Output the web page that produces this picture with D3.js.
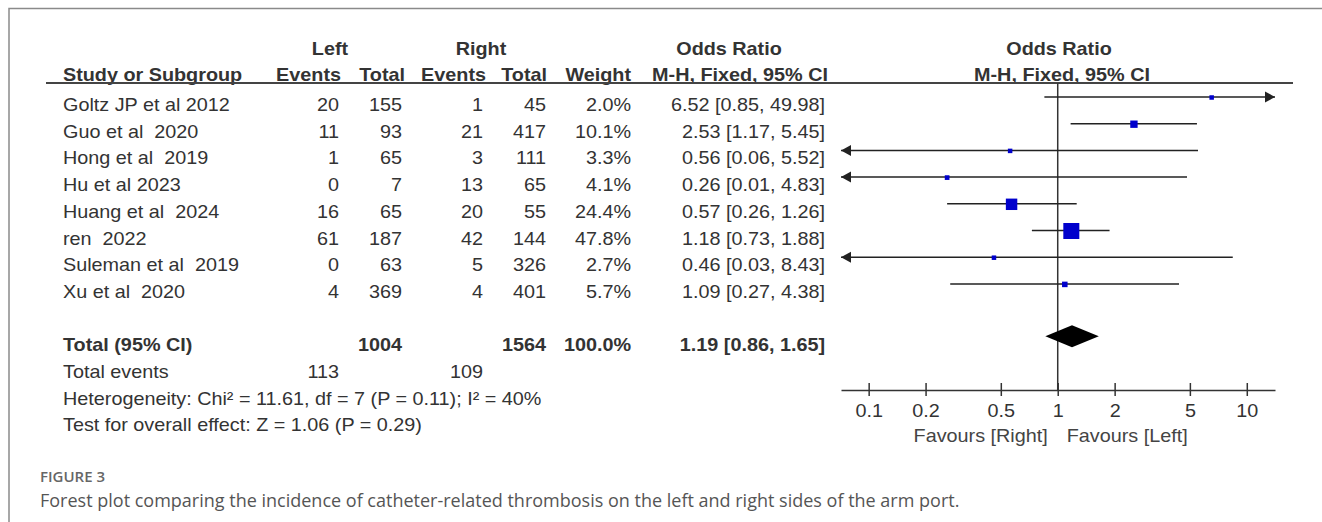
<!DOCTYPE html>
<html>
<head>
<meta charset="utf-8">
<script src="https://cdn.jsdelivr.net/npm/d3@7"></script>
<style>
  body { margin: 0; background: #fff; }
  svg text { white-space: pre; }
</style>
</head>
<body>
<svg width="1322" height="522"></svg>
<script>
// data
const studies = ["Goltz JP et al 2012", "Guo et al  2020", "Hong et al  2019", "Hu et al 2023",
  "Huang et al  2024", "ren  2022", "Suleman et al  2019", "Xu et al  2020"];
const leftEvents = [20, 11, 1, 0, 16, 61, 0, 4];
const leftTotal = [155, 93, 65, 7, 65, 187, 63, 369];
const rightEvents = [1, 21, 3, 13, 20, 42, 5, 4];
const rightTotal = [45, 417, 111, 65, 55, 144, 326, 401];
const weights = [2.0, 10.1, 3.3, 4.1, 24.4, 47.8, 2.7, 5.7];
const oddsRatio = [6.52, 2.53, 0.56, 0.26, 0.57, 1.18, 0.46, 1.09];
const ciLow = [0.85, 1.17, 0.06, 0.01, 0.26, 0.73, 0.03, 0.27];
const ciHigh = [49.98, 5.45, 5.52, 4.83, 1.26, 1.88, 8.43, 4.38];

const pooled = [1.19, 0.86, 1.65];          // OR, low, high
const totals = [1004, 1564, 100.0];          // left total, right total, weight
const totalEvents = [113, 109];
const heterogeneity = [11.61, 7, 0.11, 40];  // chi2, df, P, I2
const overall = [1.06, 0.29];                // Z, P

const xTicks = [0.1, 0.2, 0.5, 1, 2, 5, 10];
const xLimits = [0.0714, 14.1];

const svg = d3.select("svg");
const ink = "#333";
const font = "'Liberation Sans', Arial, sans-serif";

const x = d3.scaleLog().domain(xLimits).range([841, 1275]);
const row = d3.scaleLinear().domain([0, 12]).range([97, 417.4]);
const boxSize = d3.scaleSqrt().domain([0, 47.8]).range([0, 16]);

// text looks a bit wide in the source, stretch it horizontally
function txt(px, py, s, anchor, bold, color) {
  return svg.append("text")
    .attr("transform", `translate(${px},${py}) scale(1.1,1)`)
    .attr("text-anchor", anchor || "start")
    .attr("font-family", font)
    .attr("font-size", 18)
    .attr("font-weight", bold ? "bold" : "normal")
    .attr("fill", color || ink)
    .text(s);
}

// figure frame
svg.append("path")
  .attr("d", "M9,522V8.5H1322")
  .attr("fill", "none").attr("stroke", "#8a8a8a").attr("stroke-width", 1.5);

// headers
txt(330, 55, "Left", "middle", true);
txt(481, 55, "Right", "middle", true);
txt(729, 55, "Odds Ratio", "middle", true);
txt(1059, 55, "Odds Ratio", "middle", true);

const hy = 81;
txt(63, hy, "Study or Subgroup", "start", true);
txt(341, hy, "Events", "end", true);
txt(405, hy, "Total", "end", true);
txt(486, hy, "Events", "end", true);
txt(547, hy, "Total", "end", true);
txt(631, hy, "Weight", "end", true);
txt(828, hy, "M-H, Fixed, 95% CI", "end", true);
txt(1062, hy, "M-H, Fixed, 95% CI", "middle", true);

svg.append("line")
  .attr("x1", 46).attr("x2", 1293).attr("y1", 83).attr("y2", 83)
  .attr("stroke", "#444").attr("stroke-width", 2);

// study rows
const f2 = d3.format(".2f");
studies.forEach((s, i) => {
  const by = row(i) + 14;
  txt(63, by, s);
  txt(339, by, leftEvents[i], "end");
  txt(402, by, leftTotal[i], "end");
  txt(483, by, rightEvents[i], "end");
  txt(546, by, rightTotal[i], "end");
  txt(631, by, d3.format(".1f")(weights[i]) + "%", "end");
  txt(825, by, `${f2(oddsRatio[i])} [${f2(ciLow[i])}, ${f2(ciHigh[i])}]`, "end");
});

// totals
const ty = row(9) + 14;
txt(63, ty, "Total (95% CI)", "start", true);
txt(402, ty, totals[0], "end", true);
txt(546, ty, totals[1], "end", true);
txt(631, ty, d3.format(".1f")(totals[2]) + "%", "end", true);
txt(825, ty, `${f2(pooled[0])} [${f2(pooled[1])}, ${f2(pooled[2])}]`, "end", true);

txt(63, row(10) + 14, "Total events");
txt(339, row(10) + 14, totalEvents[0], "end");
txt(483, row(10) + 14, totalEvents[1], "end");
txt(63, row(11) + 14,
  `Heterogeneity: Chi² = ${heterogeneity[0]}, df = ${heterogeneity[1]} (P = ${heterogeneity[2]}); I² = ${heterogeneity[3]}%`);
txt(63, row(12) + 14, `Test for overall effect: Z = ${f2(overall[0])} (P = ${f2(overall[1])})`);

// forest plot
const axisY = 390;
svg.append("line")
  .attr("x1", x(1)).attr("x2", x(1)).attr("y1", 83).attr("y2", axisY)
  .attr("stroke", ink).attr("stroke-width", 1.5);

const plot = svg.append("g");
studies.forEach((s, i) => {
  const cy = row(i);
  const a = Math.max(ciLow[i], xLimits[0]);
  const b = Math.min(ciHigh[i], xLimits[1]);
  plot.append("line")
    .attr("x1", x(a)).attr("x2", x(b)).attr("y1", cy).attr("y2", cy)
    .attr("stroke", "#222").attr("stroke-width", 1.5);
  if (ciLow[i] < xLimits[0]) {
    const px = x(xLimits[0]);
    plot.append("path")
      .attr("d", `M${px},${cy}L${px + 10},${cy - 5.5}L${px + 10},${cy + 5.5}Z`)
      .attr("fill", "#222");
  }
  if (ciHigh[i] > xLimits[1]) {
    const px = x(xLimits[1]);
    plot.append("path")
      .attr("d", `M${px},${cy}L${px - 10},${cy - 5.5}L${px - 10},${cy + 5.5}Z`)
      .attr("fill", "#222");
  }
  const sz = Math.max(4.5, boxSize(weights[i]));
  plot.append("rect")
    .attr("x", x(oddsRatio[i]) - sz / 2).attr("y", cy - sz / 2 + 0.5)
    .attr("width", sz).attr("height", sz)
    .attr("fill", "#0000cc");
});

// pooled diamond
const dy = row(9) - 1;
plot.append("path")
  .attr("d", `M${x(pooled[1])},${dy}L${x(pooled[0])},${dy - 11}L${x(pooled[2])},${dy}L${x(pooled[0])},${dy + 11}Z`)
  .attr("fill", "#000");

// axis
const axis = svg.append("g")
  .attr("transform", `translate(0,${axisY})`)
  .call(d3.axisBottom(x).tickValues(xTicks).tickFormat(d => d).tickSizeOuter(0));
axis.select(".domain").attr("stroke", ink).attr("stroke-width", 1.5);
axis.selectAll(".tick line").attr("y1", -7).attr("y2", 6).attr("stroke", ink).attr("stroke-width", 1.5);
axis.selectAll(".tick text")
  .attr("y", 27).attr("dy", null)
  .attr("transform", "scale(1.1,1)")
  .attr("font-family", font).attr("font-size", 18).attr("fill", ink);

txt(x(1) - 10, 442, "Favours [Right]", "end", false, "#444");
txt(x(1) + 9, 442, "Favours [Left]", "start", false, "#444");

// caption
svg.append("text")
  .attr("x", 40).attr("y", 482)
  .attr("font-family", "'Open Sans', sans-serif").attr("font-size", 15)
  .attr("font-weight", 600).attr("fill", "#666")
  .text("FIGURE 3");
svg.append("text")
  .attr("x", 40).attr("y", 507)
  .attr("font-family", "'Open Sans', sans-serif").attr("font-size", 18)
  .attr("fill", "#555")
  .text("Forest plot comparing the incidence of catheter-related thrombosis on the left and right sides of the arm port.");
</script>
</body>
</html>
